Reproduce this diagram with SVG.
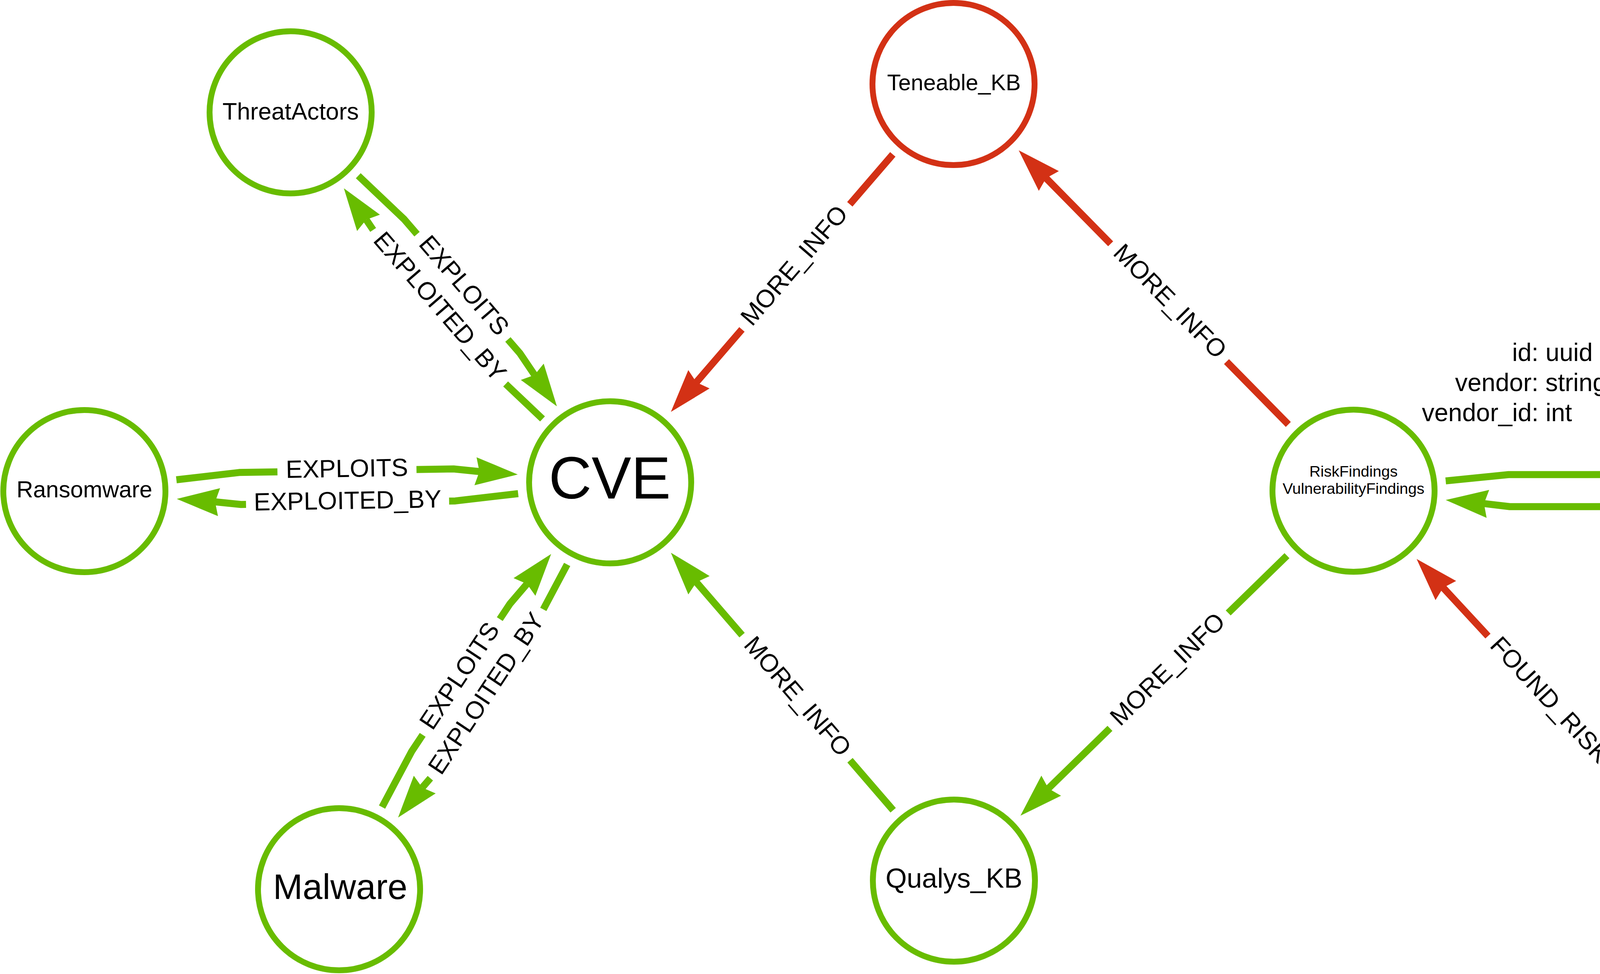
<svg xmlns="http://www.w3.org/2000/svg" width="5528" height="2493" viewBox="0 0 5528 2493">
<style>
text { font-family: "Liberation Sans", Arial, sans-serif; fill: #000; text-anchor: middle; }
.node circle { fill: #fff; stroke-width: 15; }
.node.g circle { stroke: #68BC00; }
.node.r circle { stroke: #D33115; }
.shaft { fill: none; stroke-width: 18; stroke-linejoin: round; stroke-linecap: butt; }
.eg .shaft { stroke: #68BC00; }
.eg .head { fill: #68BC00; }
.er .shaft { stroke: #D33115; }
.er .head { fill: #D33115; }
.lbl { font-size: 64px; }
.prop { font-size: 64px; text-anchor: start; }
</style>
<rect x="0" y="0" width="5528" height="2493" fill="#fff"/>
<g id="connectors">
  <g id="e-threatactors-cve" class="eg" transform="translate(744 287.5) rotate(49.18)">
    <path class="shaft" d="M236,-25 L397,-41 L447.5,-41 M803.5,-41 L851,-41 L917,-33.1"/>
    <path class="head" d="M1015,-24 L903.7,1.8 L917,-33.1 L910.3,-69.8 Z"/>
    <text class="lbl" x="625.5" y="-25">EXPLOITS</text>
  </g>
  <g id="e-cve-threatactors" class="eg" transform="translate(1562 1234.5) rotate(-130.82)">
    <path class="shaft" d="M236,-25 L365.5,-37.9 M885.5,-36.9 L917,-33.1"/>
    <path class="head" d="M1015,-24 L903.7,1.8 L917,-33.1 L910.3,-69.8 Z"/>
    <text class="lbl" x="625.5" y="-25" transform="rotate(180 625.5 -41)">EXPLOITED_BY</text>
  </g>
  <g id="e-ransomware-cve" class="eg" transform="translate(216 1257) rotate(-0.958)">
    <path class="shaft" d="M236,-25 L397,-41 L495,-41 M851,-41 L946,-41 L1012,-33.1"/>
    <path class="head" d="M1110,-24 L998.7,1.8 L1012,-33.1 L1005.3,-69.8 Z"/>
    <text class="lbl" x="673" y="-25">EXPLOITS</text>
  </g>
  <g id="e-cve-ransomware" class="eg" transform="translate(1562 1234.5) rotate(179.042)">
    <path class="shaft" d="M236,-25 L397,-41 L413,-41 M933,-41 L946,-41 L1012,-33.1"/>
    <path class="head" d="M1110,-24 L998.7,1.8 L1012,-33.1 L1005.3,-69.8 Z"/>
    <text class="lbl" x="673" y="-25" transform="rotate(180 673 -41)">EXPLOITED_BY</text>
  </g>
  <g id="e-malware-cve" class="eg" transform="translate(868 2276) rotate(-56.32)">
    <path class="shaft" d="M236,-25 L397,-41 L447.5,-41 M803.5,-41 L851,-41 L917,-33.1"/>
    <path class="head" d="M1015,-24 L903.7,1.8 L917,-33.1 L910.3,-69.8 Z"/>
    <text class="lbl" x="625.5" y="-25">EXPLOITS</text>
  </g>
  <g id="e-cve-malware" class="eg" transform="translate(1562 1234.5) rotate(123.68)">
    <path class="shaft" d="M236,-25 L365.5,-37.9 M885.5,-36.9 L917,-33.1"/>
    <path class="head" d="M1015,-24 L903.7,1.8 L917,-33.1 L910.3,-69.8 Z"/>
    <text class="lbl" x="625.5" y="-25" transform="rotate(180 625.5 -41)">EXPLOITED_BY</text>
  </g>
  <g id="e-riskfindings-assets" class="eg" transform="translate(3465 1256) rotate(-0.031)">
    <path class="shaft" d="M236,-25 L397,-41 L722,-41 M1124,-41 L1446,-41 L1512,-33.1"/>
    <path class="head" d="M1610,-24 L1498.7,1.8 L1512,-33.1 L1505.3,-69.8 Z"/>
    <text class="lbl" x="923" y="-25">FOUND_ON</text>
  </g>
  <g id="e-assets-riskfindings" class="eg" transform="translate(5311 1255) rotate(179.969)">
    <path class="shaft" d="M236,-25 L397,-41 L743,-41 M1103,-41 L1446,-41 L1512,-33.1"/>
    <path class="head" d="M1610,-24 L1498.7,1.8 L1512,-33.1 L1505.3,-69.8 Z"/>
    <text class="lbl" x="923" y="-25" transform="rotate(180 923 -41)">HAS_RISK</text>
  </g>
  <g id="e-teneable-cve" class="er" transform="translate(2441 215) rotate(130.77)">
    <path class="shaft" d="M238,0 L406.5,0 M829.5,0 L1010,0"/>
    <path class="head" d="M1108,0 L998,36 L1008,0 L998,-36 Z"/>
    <text class="lbl" x="618" y="16" transform="rotate(180 618 0)">MORE_INFO</text>
  </g>
  <g id="e-riskfindings-teneable" class="er" transform="translate(3465 1256) rotate(-134.53)">
    <path class="shaft" d="M238,0 L463.6,0 M886.6,0 L1124.2,0"/>
    <path class="head" d="M1222.2,0 L1112.2,36 L1122.2,0 L1112.2,-36 Z"/>
    <text class="lbl" x="675.1" y="16" transform="rotate(180 675.1 0)">MORE_INFO</text>
  </g>
  <g id="e-qualys-cve" class="eg" transform="translate(2442 2254) rotate(-130.80)">
    <path class="shaft" d="M238,0 L407,0 M830,0 L1010.8,0"/>
    <path class="head" d="M1108.8,0 L998.8,36 L1008.8,0 L998.8,-36 Z"/>
    <text class="lbl" x="618.5" y="16" transform="rotate(180 618.5 0)">MORE_INFO</text>
  </g>
  <g id="e-riskfindings-qualys" class="eg" transform="translate(3465 1256) rotate(135.71)">
    <path class="shaft" d="M238,0 L448.1,0 M871.1,0 L1093.2,0"/>
    <path class="head" d="M1191.2,0 L1081.2,36 L1091.2,0 L1081.2,-36 Z"/>
    <text class="lbl" x="659.6" y="16" transform="rotate(180 659.6 0)">MORE_INFO</text>
  </g>
  <g id="e-scan-riskfindings" class="er" transform="translate(4387 2252.5) rotate(-132.78)">
    <path class="shaft" d="M238,0 L396.8,0 M850.8,0 L1021.6,0"/>
    <path class="head" d="M1119.6,0 L1009.6,36 L1019.6,0 L1009.6,-36 Z"/>
    <text class="lbl" x="623.8" y="16" transform="rotate(180 623.8 0)">FOUND_RISK</text>
  </g>
  <g id="e-scan-assets" class="er" transform="translate(4387 2252.5) rotate(-47.19)">
    <path class="shaft" d="M238,0 L446.9,0 M802.9,0 L1023.7,0"/>
    <path class="head" d="M1121.7,0 L1011.7,36 L1021.7,0 L1011.7,-36 Z"/>
    <text class="lbl" x="624.85" y="16">SCANNED</text>
  </g>
</g>
<g id="node-threatactors" class="node g">
  <circle cx="744" cy="287.5" r="207.5"/>
  <text x="744" y="306" font-size="61">ThreatActors</text>
</g>
<g id="node-cve" class="node g">
  <circle cx="1562" cy="1234.5" r="207.5"/>
  <text x="1561" y="1276" font-size="152">CVE</text>
</g>
<g id="node-ransomware" class="node g">
  <circle cx="216" cy="1257" r="207.5"/>
  <text x="216" y="1273" font-size="59">Ransomware</text>
</g>
<g id="node-malware" class="node g">
  <circle cx="868" cy="2276" r="207.5"/>
  <text x="871" y="2301" font-size="91">Malware</text>
</g>
<g id="node-teneable-kb" class="node r">
  <circle cx="2441" cy="215" r="207.5"/>
  <text x="2442" y="231" font-size="57.5">Teneable_KB</text>
</g>
<g id="node-qualys-kb" class="node g">
  <circle cx="2442" cy="2254" r="207.5"/>
  <text x="2442" y="2272" font-size="70">Qualys_KB</text>
</g>
<g id="node-riskfindings" class="node g">
  <circle cx="3465" cy="1256" r="207.5"/>
  <text x="3465" y="1220" font-size="39.5">RiskFindings<tspan x="3465" y="1264">VulnerabilityFindings</tspan></text>
  <text class="prop" x="3871" y="924">id: uuid</text>
  <text class="prop" x="3725" y="1001">vendor: string</text>
  <text class="prop" x="3640" y="1078">vendor_id: int</text>
</g>
<g id="node-assets" class="node g">
  <circle cx="5311" cy="1255" r="207.5"/>
  <text x="5310" y="1285" font-size="110">Assets</text>
</g>
<g id="node-scan" class="node r">
  <circle cx="4387" cy="2252.5" r="207.5"/>
  <text x="4389" y="2292" font-size="141">Scan</text>
</g>
</svg>
